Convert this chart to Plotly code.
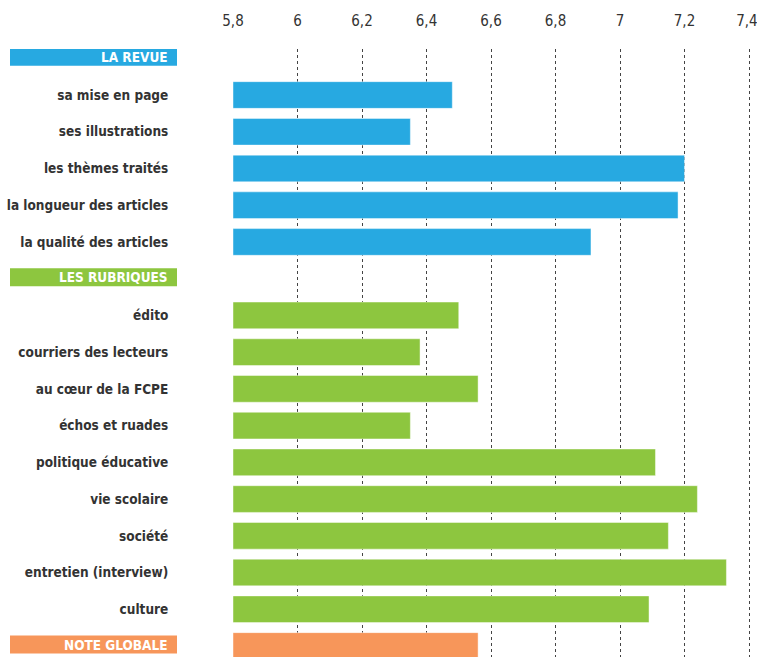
import plotly.graph_objects as go

# ---- data ----
revue_labels = ["sa mise en page", "ses illustrations", "les thèmes traités",
                "la longueur des articles", "la qualité des articles"]
revue_values = [6.48, 6.35, 7.20, 7.18, 6.91]

rubriques_labels = ["édito", "courriers des lecteurs", "au cœur de la FCPE",
                    "échos et ruades", "politique éducative", "vie scolaire",
                    "société", "entretien (interview)", "culture"]
rubriques_values = [6.50, 6.38, 6.56, 6.35, 7.11, 7.24, 7.15, 7.33, 7.09]

globale_label = "NOTE GLOBALE"
globale_value = 6.56

section_titles = ["LA REVUE", "LES RUBRIQUES"]
tick_values = [5.8, 6.0, 6.2, 6.4, 6.6, 6.8, 7.0, 7.2, 7.4]
tick_labels = ["5,8", "6", "6,2", "6,4", "6,6", "6,8", "7", "7,2", "7,4"]

# ---- styles ----
BLUE = "#27A9E1"
GREEN = "#8DC63F"
ORANGE = "#F7965A"
TEXT = "#333333"
FONT = "Liberation Sans Narrow, DejaVu Sans Condensed, Arial Narrow, sans-serif"

# row layout: header, items..., header, items..., global
rows_revue = list(range(1, 1 + len(revue_labels)))
hdr2 = 1 + len(revue_labels)
rows_rub = list(range(hdr2 + 1, hdr2 + 1 + len(rubriques_labels)))
row_glob = hdr2 + 1 + len(rubriques_labels)
header_rows = [0, hdr2, row_glob]
header_texts = section_titles + [globale_label]
header_colors = [BLUE, GREEN, ORANGE]

BASE = 5.8
BW = 0.727

fig = go.Figure()
for rows, vals, col in [(rows_revue, revue_values, BLUE),
                        (rows_rub, rubriques_values, GREEN),
                        ([row_glob], [globale_value], ORANGE)]:
    fig.add_trace(go.Bar(
        y=rows, x=[v - BASE for v in vals], base=BASE, orientation="h",
        width=BW, marker=dict(color=col, line=dict(color="rgba(255,255,255,0.45)", width=1)),
        hoverinfo="skip", showlegend=False,
    ))

W, H = 757, 657
PXU = 322.5                 # pixels per unit on the x axis
L, R = 233, 757
pw = R - L
X_END = BASE + (R - L) / PXU

def px2paper(px):
    return (px - L) / pw

shapes = []
annotations = []
for r, t, c in zip(header_rows, header_texts, header_colors):
    shapes.append(dict(type="rect", xref="paper", yref="y",
                       x0=px2paper(10), x1=px2paper(177),
                       y0=r - 0.245 - 0.04, y1=r + 0.245 - 0.04,
                       fillcolor=c, line=dict(width=0), layer="above"))
    annotations.append(dict(xref="paper", yref="y", x=px2paper(169.5), y=r - 0.04,
                            text=t, showarrow=False, xanchor="right", yanchor="middle",
                            font=dict(family=FONT, size=13.5, color="white", weight="bold")))

item_rows = rows_revue + rows_rub
item_text = revue_labels + rubriques_labels

# last tick label nudged left (padding) so it stays inside the page
x_ticktext = tick_labels[:-1] + [tick_labels[-1] + "\u00a0"]

fig.update_layout(
    width=W, height=H,
    margin=dict(l=L, r=W - R, t=49, b=0, pad=0, autoexpand=False),
    plot_bgcolor="white", paper_bgcolor="white",
    bargap=0,
    shapes=shapes,
    annotations=annotations,
    xaxis=dict(
        side="top", range=[BASE, X_END], tickvals=tick_values, ticktext=x_ticktext,
        showgrid=True, gridcolor="#444444", gridwidth=1, griddash="dot",
        zeroline=False, showline=False, automargin=False,
        ticks="outside", ticklen=16, tickcolor="rgba(0,0,0,0)",
        ticklabeloverflow="allow",
        tickfont=dict(family=FONT, size=15, color=TEXT),
        fixedrange=True,
    ),
    yaxis=dict(
        range=[16.30, -0.253], tickvals=item_rows, ticktext=item_text,
        showgrid=False, zeroline=False, showline=False, automargin=False,
        ticks="outside", ticklen=61, tickcolor="rgba(0,0,0,0)",
        tickfont=dict(family=FONT, size=13.5, color=TEXT, weight="bold"),
        fixedrange=True,
    ),
)

fig.write_html(
    "out.html",
    config={"displayModeBar": False, "staticPlot": True},
    post_script="document.body.style.margin='0';document.body.style.overflow='hidden';",
)
